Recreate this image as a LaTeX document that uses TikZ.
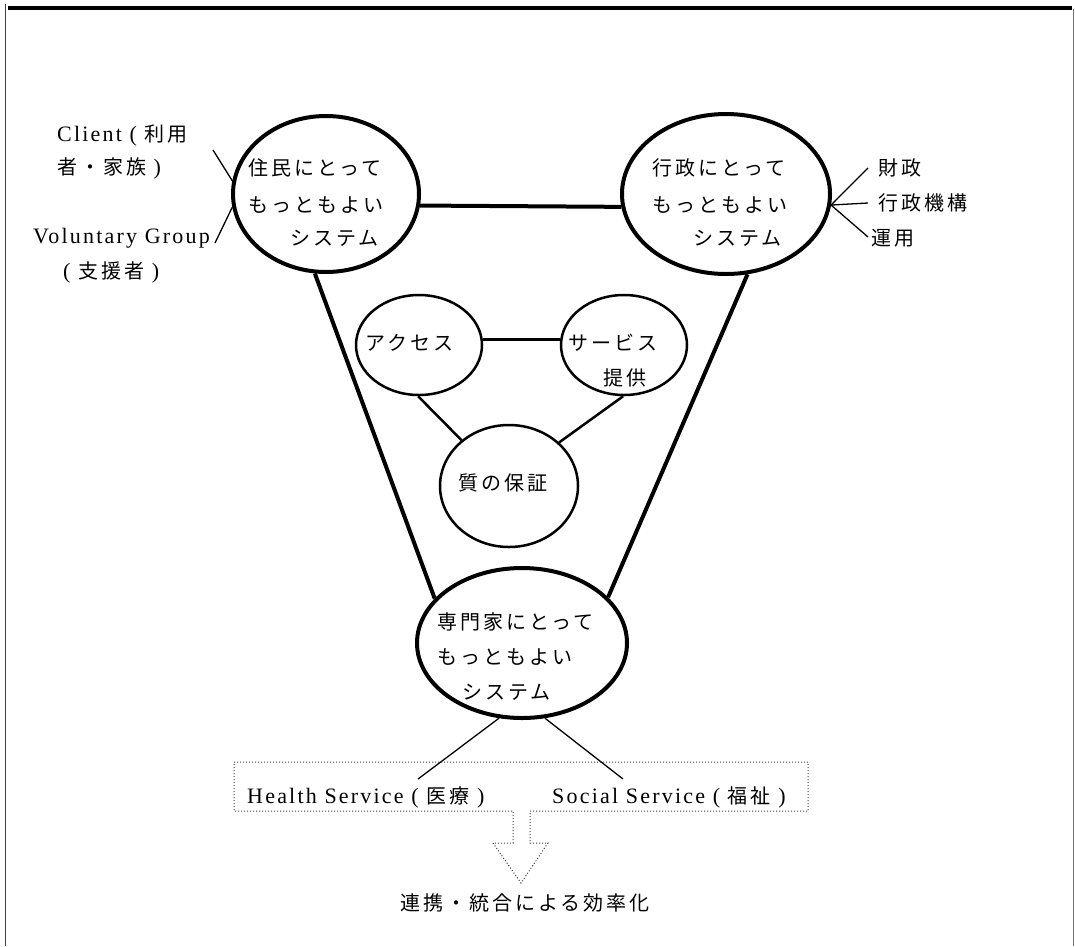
\documentclass[tikz,border=0pt]{standalone}
\usepackage{fontspec}
\setmainfont{Liberation Serif}[LetterSpace=10]
\newfontfamily\jp{Noto Sans CJK JP}[LetterSpace=15]
\usetikzlibrary{shapes.geometric}
\begin{document}
\begin{tikzpicture}[x=1pt,y=-1pt,
  bigell/.style={draw, ellipse, line width=4pt, inner sep=0pt},
  smallell/.style={draw, ellipse, line width=2.5pt, inner sep=0pt},
  txt/.style={anchor=west, inner sep=0pt, font=\fontsize{22}{26}\selectfont},
  jtxt/.style={anchor=west, inner sep=0pt, font=\fontsize{20}{24}\selectfont\jp},
  heavy/.style={line width=4pt},
  medium/.style={line width=2.5pt},
  sideline/.style={line width=1.3pt},
  boxline/.style={dotted, line width=1pt, black!75}
]
\useasboundingbox (0,0) rectangle (1075,946);
% frame
\draw[line width=4pt] (8,7.5) -- (1072,7.5);
\draw[line width=1.5pt, black!75] (5.5,4) -- (5.5,946);
\draw[line width=1.5pt, black!55] (1073.5,9) -- (1073.5,946);

% ellipses
\node[bigell, minimum width=186pt, minimum height=156pt] (L) at (326,194) {};
\node[bigell, minimum width=208pt, minimum height=160pt] (R) at (726,194) {};
\node[bigell, minimum width=210pt, minimum height=150pt] (B) at (522,643) {};
\node[smallell, minimum width=126pt, minimum height=100pt] (A) at (419,345) {};
\node[smallell, minimum width=126pt, minimum height=100pt] (S) at (624,345) {};
\node[smallell, minimum width=138pt, minimum height=122pt] (Q) at (509,486) {};

% main connectors
\draw[heavy] (L.-7) -- (R.-173);
\draw[heavy] (L.-98) -- (B.153);
\draw[heavy] (R.-75) -- (B.28);
\draw[medium] (A.5) -- (S.175);
\draw[medium] (A.-91) -- (Q.136);
\draw[medium] (S.-91) -- (Q.41);

% side lines
\coordinate (c1) at (213,150);
\coordinate (c2) at (215,243);
\draw[sideline] (c1) -- (L.172);
\draw[sideline] (L.188) -- (c2);
\coordinate (r1) at (868,168);
\coordinate (r2) at (868,203);
\coordinate (r3) at (868,237);
\draw[sideline] (R.-6) -- (r1);
\draw[sideline] (R.-6) -- (r2);
\draw[sideline] (R.-6) -- (r3);
\coordinate (h1) at (418,779);
\coordinate (s1) at (623,779);
\draw[sideline] (B.-107) -- (h1);
\draw[sideline] (B.-73) -- (s1);

% dotted box with arrow
\draw[boxline] (234,762) -- (808,762) -- (808,811) -- (530,811) -- (530,843)
  -- (548,843) -- (521,883) -- (493,843) -- (513,843) -- (513,811)
  -- (234,811) -- cycle;

% texts
\node[txt] (tc1) at (57,135) {Client ( {\fontsize{20}{24}\selectfont\jp 利用}};
\node[jtxt] (tc2) at (57,168) {者・家族 {\rmfamily\fontsize{22}{26}\selectfont )}};
\node[txt] (tv1) at (33,238) {Voluntary Group};
\node[txt] (tv2) at (63,272) {( {\fontsize{20}{24}\selectfont\jp 支援者} )};

\node[jtxt] (tl1) at (248,168) {住民にとって};
\node[jtxt] (tl2) at (248,205) {もっともよい};
\node[jtxt] (tl3) at (290,238) {システム};

\node[jtxt] (tr1) at (652,168) {行政にとって};
\node[jtxt] (tr2) at (652,205) {もっともよい};
\node[jtxt] (tr3) at (693,238) {システム};

\node[jtxt] (f1) at (878,168) {財政};
\node[jtxt] (f2) at (878,203) {行政機構};
\node[jtxt] (f3) at (871,238) {運用};

\node[jtxt] (ta) at (365,343) {アクセス};
\node[jtxt] (ts1) at (568,343) {サービス};
\node[jtxt] (ts2) at (603,378) {提供};
\node[jtxt] (tq) at (458,483) {質の保証};

\node[jtxt] (tb1) at (437,622) {専門家にとって};
\node[jtxt] (tb2) at (437,657) {もっともよい};
\node[jtxt] (tb3) at (462,692) {システム};

\node[txt] (th) at (247,797) {Health Service ( {\fontsize{20}{24}\selectfont\jp 医療} )};
\node[txt] (tsoc) at (552,797) {Social Service ( {\fontsize{20}{24}\selectfont\jp 福祉} )};
\node[jtxt] (tf) at (400,903) {連携・統合による効率化};
\end{tikzpicture}
\end{document}
